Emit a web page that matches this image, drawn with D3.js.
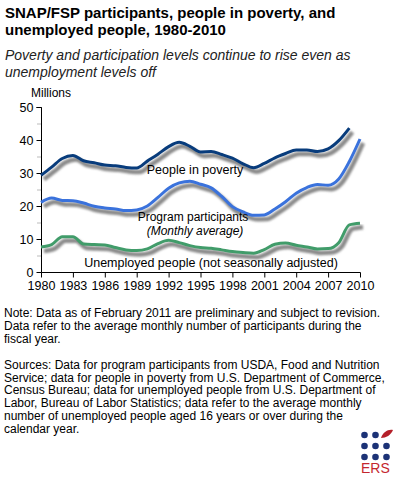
<!DOCTYPE html>
<html>
<head>
<meta charset="utf-8">
<style>
  body { margin: 0; background: #fff; }
  text { font-family: Arial, "Liberation Sans", sans-serif; fill: #000; }
</style>
</head>
<body>
<script src="https://d3js.org/d3.v7.min.js"></script>
<script>
const years = d3.range(1980, 2011);
// millions
const poverty = [29.3, 31.8, 34.4, 35.3, 33.7, 33.1, 32.4, 32.2, 31.7, 31.5,
  33.6, 35.7, 38.0, 39.3, 38.1, 36.4, 36.5, 35.6, 34.5, 32.8,
  31.6, 32.9, 34.6, 35.9, 37.0, 37.0, 36.5, 37.3, 39.8, 43.6];
const participants = [21.1, 22.4, 21.7, 21.6, 20.9, 19.9, 19.4, 19.1, 18.6, 18.8,
  20.0, 22.6, 25.4, 27.0, 27.5, 26.6, 25.5, 22.9, 19.8, 18.2,
  17.2, 17.3, 19.1, 21.3, 23.9, 25.6, 26.5, 26.3, 28.2, 33.5, 40.3];
const unemployed = [7.6, 8.3, 10.7, 10.7, 8.5, 8.3, 8.2, 7.4, 6.7, 6.5,
  7.0, 8.6, 9.6, 8.9, 8.0, 7.4, 7.2, 6.7, 6.2, 5.9,
  5.7, 6.8, 8.4, 8.8, 8.1, 7.6, 7.0, 7.1, 8.9, 14.3, 14.8];
const xTicks = d3.range(1980, 2011, 3);
const yTicks = [0, 10, 20, 30, 40, 50];

const title = ["SNAP/FSP participants, people in poverty, and", "unemployed people, 1980-2010"];
const subtitle = ["Poverty and participation levels continue to rise even as", "unemployment levels off"];
const notes = [
  "Note: Data as of February 2011 are preliminary and subject to revision.",
  "Data refer to the average monthly number of participants during the",
  "fiscal year.",
  "",
  "Sources: Data for program participants from USDA, Food and Nutrition",
  "Service; data for people in poverty from U.S. Department of Commerce,",
  "Census Bureau; data for unemployed people from U.S. Department of",
  "Labor, Bureau of Labor Statistics; data refer to the average monthly",
  "number of unemployed people aged 16 years or over during the",
  "calendar year."
];

const svg = d3.select("body").append("svg").attr("width", 396).attr("height", 480);

const defs = svg.append("defs");
defs.append("filter").attr("id", "shadow").attr("x", "-10%").attr("y", "-10%").attr("width", "120%").attr("height", "130%")
  .append("feGaussianBlur").attr("stdDeviation", 1.3);

svg.selectAll(".title").data(title).enter().append("text")
  .attr("x", 5).attr("y", (d, i) => 18 + i * 16.5)
  .style("font-size", "15px").style("font-weight", "bold").text(d => d);
svg.selectAll(".sub").data(subtitle).enter().append("text")
  .attr("x", 5).attr("y", (d, i) => 60 + i * 17)
  .style("font-size", "14px").style("font-style", "italic").style("fill", "#222").text(d => d);

const x = d3.scaleLinear().domain([1980, 2010]).range([41, 360]);
const y = d3.scaleLinear().domain([0, 50]).range([272, 107]);

svg.append("text").attr("x", 31).attr("y", 97).style("font-size", "12px").text("Millions");

// minor y ticks
svg.append("g").selectAll("line").data([5, 15, 25, 35, 45]).enter().append("line")
  .attr("x1", 37).attr("x2", 41).attr("y1", d => y(d) + 0.5).attr("y2", d => y(d) + 0.5)
  .attr("stroke", "#bbb");

const yAxis = svg.append("g").attr("transform", "translate(41.5,0)")
  .call(d3.axisLeft(y).tickValues(yTicks).tickSize(5).tickPadding(3));
yAxis.select(".domain").attr("d", `M-5,${y(50) + 0.5}H0V${y(0) + 0.5}`).attr("stroke", "#000");
yAxis.selectAll("text").style("font-size", "12.5px").style("font-family", "Arial, 'Liberation Sans', sans-serif");

const xAxis = svg.append("g").attr("transform", "translate(0,272.5)")
  .call(d3.axisBottom(x).tickValues(xTicks).tickFormat(d3.format("d")).tickSize(5).tickPadding(4));
xAxis.select(".domain").attr("d", `M${x(1980) + 0.5},0H${x(2010) + 0.5}`).attr("stroke", "#000");
xAxis.selectAll("text").style("font-size", "12.5px").style("font-family", "Arial, 'Liberation Sans', sans-serif");

const series = [
  { values: poverty, color: "#083c7c" },
  { values: participants, color: "#3a72dc" },
  { values: unemployed, color: "#419c6a" }
];
const line = d3.line().x((d, i) => x(years[i])).y(d => y(d)).curve(d3.curveMonotoneX);

const g = svg.append("g");
series.forEach(s => {
  g.append("path").attr("d", line(s.values)).attr("fill", "none")
    .attr("stroke", "#8a8a8a").attr("stroke-width", 4.5).attr("stroke-linejoin", "round")
    .attr("transform", "translate(3,4)").attr("filter", "url(#shadow)");
});
series.forEach(s => {
  g.append("path").attr("d", line(s.values)).attr("fill", "none")
    .attr("stroke", s.color).attr("stroke-width", 3).attr("stroke-linejoin", "round");
});

const labels = [
  { text: "People in poverty", x: 195, y: 174, italic: false, size: 12.5 },
  { text: "Program participants", x: 193, y: 221, italic: false, size: 12 },
  { text: "(Monthly average)", x: 195, y: 235, italic: true, size: 12 },
  { text: "Unemployed people (not seasonally adjusted)", x: 211, y: 267, italic: false, size: 12.5 }
];
svg.selectAll(".lbl").data(labels).enter().append("text")
  .attr("x", d => d.x).attr("y", d => d.y).attr("text-anchor", "middle")
  .style("font-size", d => d.size + "px").style("font-style", d => d.italic ? "italic" : "normal")
  .text(d => d.text);

svg.selectAll(".note").data(notes).enter().append("text")
  .attr("x", 4).attr("y", (d, i) => 317 + i * 12.9)
  .style("font-size", "12px").text(d => d);

// ERS logo
const logo = svg.append("g");
const dots = [];
[0, 1, 2].forEach(r => [0, 1, 2].forEach(c => { if (!(r === 0 && c === 2)) dots.push([c, r]); }));
logo.selectAll("circle").data(dots).enter().append("circle")
  .attr("cx", d => 364.5 + d[0] * 11).attr("cy", d => 435 + d[1] * 11).attr("r", 3.3)
  .attr("fill", "#1c3276");
logo.append("path").attr("d", "M381,438 C383,432 388,429 393,430 C391,435 386,438 381,438 Z").attr("fill", "#b5202a");
logo.append("text").attr("x", 361).attr("y", 473).style("font-size", "14px").style("fill", "#c4262e").text("ERS");
</script>
</body>
</html>
